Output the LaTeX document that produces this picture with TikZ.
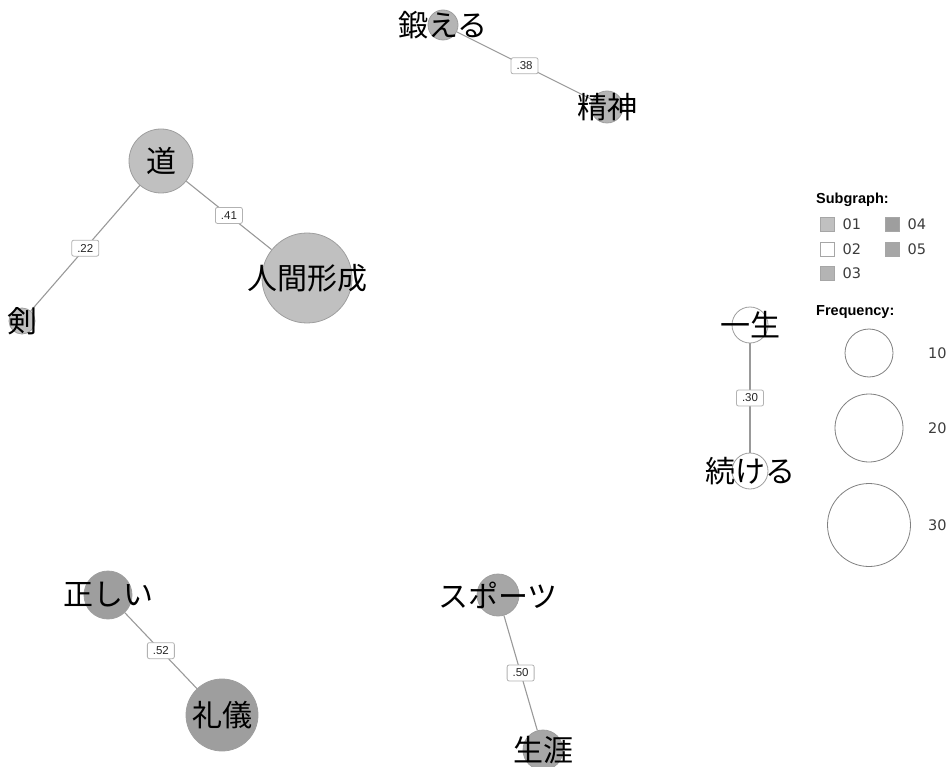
\documentclass[tikz,border=0pt]{standalone}
\usepackage{fontspec}
\setmainfont{Liberation Sans}
\newfontfamily\jpfont{Noto Sans CJK JP}
\newfontfamily\numfont{DejaVu Sans}
\usepackage{tikz}
\usetikzlibrary{positioning, backgrounds}
\definecolor{sg_one}{RGB}{192,192,192}
\definecolor{sg_three}{RGB}{180,180,180}
\definecolor{sg_four}{RGB}{158,158,158}
\definecolor{sg_five}{RGB}{166,166,166}
\definecolor{legend_text}{RGB}{60,60,60}

\begin{document}
\begin{tikzpicture}[
    x=1pt, y=-1pt,
    term/.style={circle, draw=black!38, line width=0.8pt, inner sep=0pt},
    word/.style={font=\jpfont\fontsize{30}{30}\selectfont, inner sep=0pt},
    link/.style={black!40, line width=1.1pt},
    wt/.style={draw=black!30, rounded corners=2pt, fill=white, line width=0.8pt,
               text=black!85, font=\fontsize{11.5}{11.5}\selectfont, minimum width=27pt,
               minimum height=16pt, inner sep=1pt},
    swatch/.style={draw=black!35, line width=0.8pt, minimum size=14pt, inner sep=0pt},
    legtext/.style={font=\numfont\fontsize{14.5}{14.5}\selectfont, text=legend_text, inner sep=0pt},
    leghead/.style={font=\bfseries\fontsize{14.5}{14.5}\selectfont, anchor=west, inner sep=0pt},
    sizekey/.style={circle, draw=black!50, line width=0.8pt, fill=white, inner sep=0pt},
]
\useasboundingbox (0,0) rectangle (950,767);

% words
\node[term, fill=sg_three, minimum size=30pt, label={[word]center:鍛える}] (kitaeru) at (443,25) {};
\node[term, fill=sg_three, minimum size=32pt, label={[word]center:精神}] (seishin) at (607,107) {};
\node[term, fill=sg_one, minimum size=64pt, label={[word]center:道}] (michi) at (161,161) {};
\node[term, fill=sg_one, minimum size=90pt, label={[word]center:人間形成}] (ningen) at (307,278) {};
\node[term, fill=sg_one, minimum size=26pt, label={[word]center:剣}] (ken) at (22,321) {};
\node[term, fill=white, minimum size=36pt, label={[word]center:一生}] (issho) at (750,325) {};
\node[term, fill=white, minimum size=36pt, label={[word]center:続ける}] (tsuzukeru) at (750,471) {};
\node[term, fill=sg_four, minimum size=48pt, label={[word]center:正しい}] (tadashii) at (108,595) {};
\node[term, fill=sg_four, minimum size=72pt, label={[word]center:礼儀}] (reigi) at (222,715) {};
\node[term, fill=sg_five, minimum size=42pt, label={[word]center:スポーツ}] (sports) at (498,595) {};
\node[term, fill=sg_five, minimum size=40pt, label={[word]center:生涯}] (shogai) at (543,750) {};

% co-occurrence links
\begin{scope}[on background layer]
\draw[link] (kitaeru) -- node[wt] {.38} (seishin);
\draw[link] (michi) -- node[wt] {.22} (ken);
\draw[link] (michi) -- node[wt] {.41} (ningen);
\draw[link] (issho) -- node[wt] {.30} (tsuzukeru);
\draw[link] (tadashii) -- node[wt] {.52} (reigi);
\draw[link] (sports) -- node[wt] {.50} (shogai);
\end{scope}

% legend
\node[leghead] (sghead) at (816,200) {Subgraph:};
\node[swatch, fill=sg_one]   (swa) at (827,224) {};
\node[swatch, fill=white]    (swb) at (827,249) {};
\node[swatch, fill=sg_three] (swc) at (827,273) {};
\node[swatch, fill=sg_four]  (swd) at (892,224) {};
\node[swatch, fill=sg_five]  (swe) at (892,249) {};
\node[legtext, right=8pt of swa] {01};
\node[legtext, right=8pt of swb] {02};
\node[legtext, right=8pt of swc] {03};
\node[legtext, right=8pt of swd] {04};
\node[legtext, right=8pt of swe] {05};

\node[leghead] (fqhead) at (816,312) {Frequency:};
\node[sizekey, minimum size=48pt] (fa) at (869,353) {};
\node[sizekey, minimum size=68pt] (fb) at (869,428) {};
\node[sizekey, minimum size=83pt] (fc) at (869,525) {};
\node[legtext, anchor=west] at (928,353) {10};
\node[legtext, anchor=west] at (928,428) {20};
\node[legtext, anchor=west] at (928,525) {30};
\end{tikzpicture}
\end{document}
